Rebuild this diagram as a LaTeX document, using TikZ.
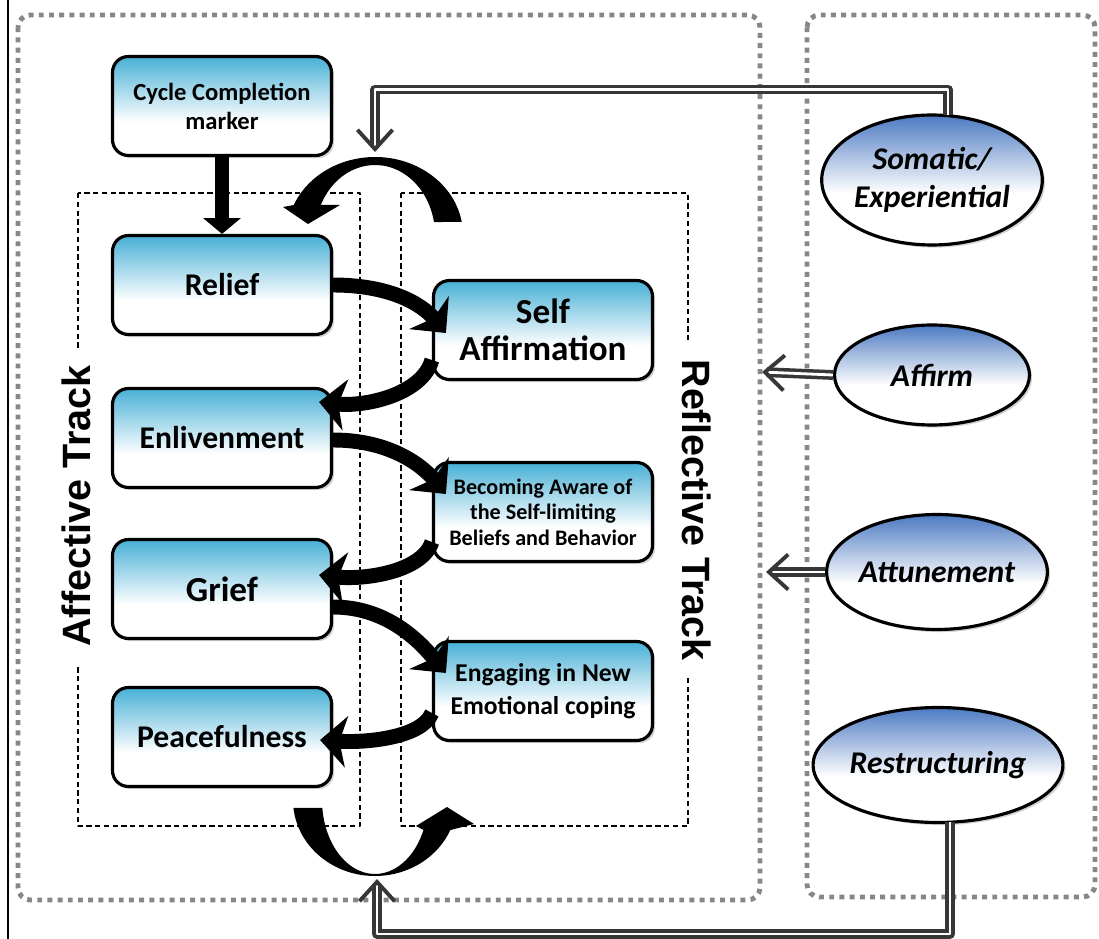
\documentclass[tikz,border=0pt]{standalone}
\usepackage{fontspec}
\setmainfont{Carlito}
\newfontfamily\trackfont{Liberation Sans}
\usetikzlibrary{arrows.meta,shadows,shapes.geometric}
\definecolor{boxcyan}{RGB}{72,176,214}
\definecolor{ellblue}{RGB}{76,122,194}
\definecolor{dotgray}{RGB}{135,135,135}
\definecolor{dblgray}{RGB}{55,55,55}
\pgfdeclareverticalshading{boxshade}{100bp}{color(0bp)=(white); color(42bp)=(white); color(75bp)=(boxcyan); color(100bp)=(boxcyan)}
\pgfdeclareverticalshading{ellshade}{100bp}{color(0bp)=(white); color(45bp)=(white); color(60bp)=(ellblue!50); color(75bp)=(ellblue); color(100bp)=(ellblue)}
\begin{document}
\begin{tikzpicture}[x=0.02cm, y=-0.02cm, line join=round,
  stagebox/.style={draw, line width=1.8pt, rounded corners=9pt, shading=boxshade,
    drop shadow={shadow xshift=1.5pt, shadow yshift=-1.5pt, opacity=0.35},
    minimum width=4.38cm, minimum height=1.98cm, align=center, inner sep=2pt},
  modeoval/.style={ellipse, draw, line width=1.8pt, shading=ellshade,
    drop shadow={shadow xshift=1.5pt, shadow yshift=-1.5pt, opacity=0.35},
    align=center, inner sep=0pt, font=\bfseries\itshape\fontsize{18}{22}\selectfont},
  flow/.style={line width=8.5pt, -{Stealth[length=15pt, width=29pt, inset=4pt]}},
  feed/.style={draw=dblgray, line width=2pt, double=white, double distance=1.6pt,
    -{Straight Barb[length=11pt, width=20pt, line width=2.2pt]}},
  trackbox/.style={densely dashed, line width=0.6pt},
  panel/.style={draw=dotgray, line width=2.8pt, dash pattern=on 2.8pt off 3pt, rounded corners=7pt},
  tracklabel/.style={fill=white, font=\trackfont\bfseries\fontsize{22.5}{26}\selectfont, inner xsep=10pt, inner ysep=0pt}]
\useasboundingbox (0,0) rectangle (1099,939);
\draw[line width=1pt] (8,0) -- (8,939);
% dotted panels and dashed tracks
\draw[panel] (18,15) rectangle (760,900);
\draw[panel] (807,15) rectangle (1095,897);
\draw[trackbox] (78,193) rectangle (360,826);
\draw[trackbox] (401,193) rectangle (688,826);
\node[tracklabel, rotate=90] (afftrack) at (76,506) {Affective Track};
\node[tracklabel, rotate=-90] (reftrack) at (697,510) {Reflective Track};
% loop arrows between the tracks
\fill ([shift={(375,235)}]-9.6:88 and 78) arc[start angle=-9.6, end angle=-157.4, x radius=88, y radius=78]
  -- (283,207) -- (308,224) -- (340,205)
  -- ([shift={(375,235)}]-154.6:60 and 70) arc[start angle=-154.6, end angle=-10.7, x radius=60, y radius=70] -- cycle;
\fill ([shift={(375,800)}]174:82 and 76) arc[start angle=174, end angle=23.3, x radius=82, y radius=76]
  -- (474,824) -- (447,807) -- (416,826)
  -- ([shift={(375,800)}]23.9:53 and 74) arc[start angle=23.9, end angle=173.8, x radius=53, y radius=74] -- cycle;
\coordinate (looptop) at (375,152);
\coordinate (loopbot) at (377,879);
\coordinate (affin) at (762,372);
\coordinate (attin) at (766,572);
% stages
\node[stagebox, font=\bfseries\fontsize{14}{16.5}\selectfont] (cycle) at (222,106) {Cycle Completion\\marker};
\node[stagebox, font=\bfseries\fontsize{18}{21}\selectfont] (relief) at (222,285) {Relief};
\node[stagebox, font=\bfseries\fontsize{18}{21}\selectfont] (enliv) at (222,438) {Enlivenment};
\node[stagebox, font=\bfseries\fontsize{20}{23}\selectfont] (grief) at (222,589) {Grief};
\node[stagebox, font=\bfseries\fontsize{18}{21}\selectfont] (peace) at (222,737) {Peacefulness};
\node[stagebox, font=\bfseries\fontsize{20}{21}\selectfont] (selfaff) at (543,330) {Self\\Affirmation};
\node[stagebox, font=\bfseries\fontsize{12.6}{14.5}\selectfont] (aware) at (543,512) {Becoming Aware of\\the Self-limiting\\Beliefs and Behavior};
\node[stagebox, font=\bfseries\fontsize{14.6}{19}\selectfont] (engage) at (543,691) {Engaging in New\\Emotional coping};
% modes
\foreach \nm/\pos/\w/\h/\txt in {somatic/{932,180}/4.1/2.6/{Somatic/\\Experiential},
    affirm/{932,375}/3.9/2.0/Affirm, attune/{937,572}/3.74/2.3/Attunement,
    restruct/{938,765}/4.2/2.3/Restructuring}
  \node[modeoval, minimum width=\w cm, minimum height=\h cm] (\nm) at (\pos) {\txt};
\draw[feed] ([shift={(16,2)}]somatic.north) -- ++(0,-26) -| (looptop);
\draw[feed] (affirm.west) -- (affin);
\draw[feed] (attune.west) -- (attin);
\draw[feed] ([shift={(12,-2)}]restruct.south) -- ++(0,112) -| (loopbot);
% flow between the tracks
\draw[line width=8.5pt, -{Triangle[length=9pt, width=21pt]}] (cycle) -- (relief);
\draw[flow] (relief.east) .. controls +(55,0) and +(-25,-30) .. ([shift={(14,3)}]selfaff.west);
\draw[flow] ([shift={(0,30)}]selfaff.west) .. controls +(-10,35) and +(45,5) .. ([shift={(-14,-36)}]enliv.east);
\draw[flow] ([shift={(0,2)}]enliv.east) .. controls +(55,0) and +(-25,-30) .. ([shift={(14,-18)}]aware.west);
\draw[flow] ([shift={(0,30)}]aware.west) .. controls +(-10,30) and +(45,5) .. ([shift={(-14,-14)}]grief.east);
\draw[flow] ([shift={(0,18)}]grief.east) .. controls +(55,0) and +(-25,-30) .. ([shift={(14,-18)}]engage.west);
\draw[flow] ([shift={(0,22)}]engage.west) .. controls +(-10,25) and +(45,3) .. ([shift={(-13,3)}]peace.east);
\end{tikzpicture}
\end{document}
